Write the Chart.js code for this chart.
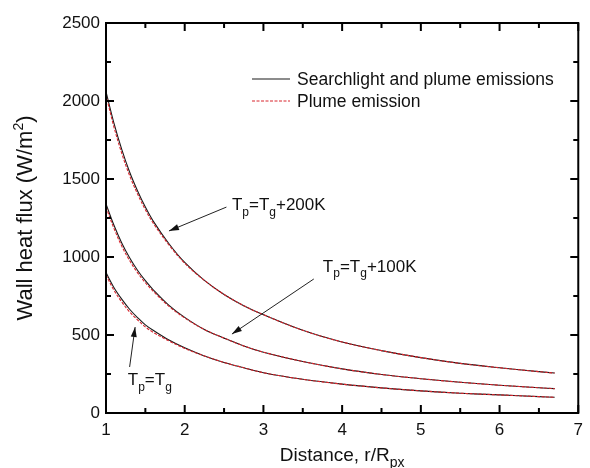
<!DOCTYPE html>
<html>
<head>
<meta charset="utf-8">
<script src="https://cdn.jsdelivr.net/npm/chart.js@4.4.1/dist/chart.umd.min.js"></script>
<style>
  body { margin: 0; background: #fff; }
  #wrap { width: 590px; height: 468px; }
</style>
</head>
<body>
<div id="wrap"><canvas id="chart" width="590" height="468"></canvas></div>
<script>

// values
const distance = [1.0, 1.1, 1.2, 1.3, 1.4, 1.5, 1.6, 1.8, 2.0, 2.25, 2.5, 2.75, 3.0, 3.5, 4.0, 4.5, 5.0, 5.5, 6.0, 6.5, 6.7];

// searchlight and plume emissions (solid)
const both200 = [2060, 1860, 1690, 1545, 1425, 1320, 1230, 1085, 965, 850, 760, 688, 630, 530, 455, 400, 355, 318, 290, 265, 256];
const both100 = [1340, 1205, 1090, 995, 915, 848, 790, 690, 613, 535, 480, 430, 390, 330, 283, 247, 220, 197, 178, 162, 156];
const both0   = [900, 805, 730, 665, 612, 565, 530, 468, 418, 366, 324, 290, 258, 216, 185, 161, 142, 127, 116, 105, 101];

// plume emission only (dashed)
const plume200 = [2040, 1835, 1665, 1522, 1405, 1303, 1217, 1077, 960, 850, 760, 688, 630, 530, 455, 400, 355, 318, 290, 265, 256];
const plume100 = [1320, 1185, 1070, 977, 900, 835, 780, 684, 609, 535, 480, 430, 390, 330, 283, 247, 220, 197, 178, 162, 156];
const plume0   = [885, 788, 712, 648, 597, 552, 517, 462, 414, 366, 324, 290, 258, 216, 185, 161, 142, 127, 116, 105, 101];

const legendLabels = ["Searchlight and plume emissions", "Plume emission"];
const xTicks = [1, 2, 3, 4, 5, 6, 7];
const yTicks = [0, 500, 1000, 1500, 2000, 2500];

const FONT = "'Liberation Sans', Arial, sans-serif";
const RED = "#d8242c";
const BLACK = "#1a1a1a";


function pts(ys) {
    return distance.map(function (x, i) { return { x: x, y: ys[i] }; });
}

function solid(ys) {
    return { data: pts(ys), borderColor: BLACK, borderWidth: 1.1, pointRadius: 0, tension: 0.35, fill: false };
}

function dashed(ys) {
    return { data: pts(ys), borderColor: RED, borderWidth: 1.1, borderDash: [3, 1.5], pointRadius: 0, tension: 0.35, fill: false };
}


// draw text made of pieces with sub/superscripts
function richText(ctx, parts, x, y, size) {
    let cx = x;
    parts.forEach(function (p) {
        let fs = size, dy = 0;
        if (p.sub) { fs = Math.round(size * 0.72); dy = size * 0.33; }
        if (p.sup) { fs = Math.round(size * 0.65); dy = -size * 0.42; }
        ctx.font = fs + "px " + FONT;
        ctx.fillText(p.t, cx, y + dy);
        cx += ctx.measureText(p.t).width;
    });
    return cx - x;
}

function richWidth(ctx, parts, size) {
    let w = 0;
    parts.forEach(function (p) {
        let fs = size;
        if (p.sub) fs = Math.round(size * 0.72);
        if (p.sup) fs = Math.round(size * 0.65);
        ctx.font = fs + "px " + FONT;
        w += ctx.measureText(p.t).width;
    });
    return w;
}


// annotation positions (data coordinates)
const notes = [
    { parts: [{ t: "T" }, { t: "p", sub: 1 }, { t: "=T" }, { t: "g", sub: 1 }, { t: "+200K" }], at: [2.60, 1300], from: [2.53, 1320], to: [1.80, 1167] },
    { parts: [{ t: "T" }, { t: "p", sub: 1 }, { t: "=T" }, { t: "g", sub: 1 }, { t: "+100K" }], at: [3.755, 905], from: [3.64, 859], to: [2.60, 506] },
    { parts: [{ t: "T" }, { t: "p", sub: 1 }, { t: "=T" }, { t: "g", sub: 1 }], at: [1.277, 180], from: [1.30, 295], to: [1.37, 551] }
];


const framePlugin = {
    id: "frame",
    beforeDraw: function (chart) {
        const c = chart.ctx;
        c.save();
        c.fillStyle = "#fff";
        c.fillRect(0, 0, chart.width, chart.height);
        c.restore();
    },
    afterDraw: function (chart) {
        const c = chart.ctx;
        const a = chart.chartArea;
        const xs = chart.scales.x;
        const ys = chart.scales.y;

        c.save();
        c.strokeStyle = "#000";
        c.lineWidth = 2;
        c.strokeRect(a.left, a.top, a.right - a.left, a.bottom - a.top);

        // inward ticks on all four sides
        function tickX(v, len) {
            const px = xs.getPixelForValue(v);
            c.beginPath();
            c.moveTo(px, a.bottom); c.lineTo(px, a.bottom - len);
            c.moveTo(px, a.top); c.lineTo(px, a.top + len);
            c.stroke();
        }
        function tickY(v, len) {
            const py = ys.getPixelForValue(v);
            c.beginPath();
            c.moveTo(a.left, py); c.lineTo(a.left + len, py);
            c.moveTo(a.right, py); c.lineTo(a.right - len, py);
            c.stroke();
        }
        for (let i = 0; i < xTicks.length; i++) {
            tickX(xTicks[i], 8);
            if (i < xTicks.length - 1) tickX((xTicks[i] + xTicks[i + 1]) / 2, 5);
        }
        for (let i = 0; i < yTicks.length; i++) {
            tickY(yTicks[i], 8);
            if (i < yTicks.length - 1) tickY((yTicks[i] + yTicks[i + 1]) / 2, 5);
        }

        // legend
        c.lineWidth = 1.2;
        c.strokeStyle = BLACK;
        c.beginPath(); c.moveTo(252, 79); c.lineTo(290, 79); c.stroke();
        c.lineWidth = 1;
        c.strokeStyle = RED;
        c.setLineDash([3, 1.5]);
        c.beginPath(); c.moveTo(252, 101); c.lineTo(290, 101); c.stroke();
        c.setLineDash([]);
        c.fillStyle = "#111";
        c.textBaseline = "alphabetic";
        c.font = "17.5px " + FONT;
        c.fillText(legendLabels[0], 297, 85);
        c.fillText(legendLabels[1], 297, 107);

        // annotations with arrows
        notes.forEach(function (n) {
            const tx = xs.getPixelForValue(n.at[0]);
            const ty = ys.getPixelForValue(n.at[1]);
            c.fillStyle = "#111";
            richText(c, n.parts, tx, ty, 17);

            const x0 = xs.getPixelForValue(n.from[0]), y0 = ys.getPixelForValue(n.from[1]);
            const x1 = xs.getPixelForValue(n.to[0]), y1 = ys.getPixelForValue(n.to[1]);
            const ang = Math.atan2(y1 - y0, x1 - x0);
            c.strokeStyle = "#222";
            c.lineWidth = 1;
            c.beginPath(); c.moveTo(x0, y0); c.lineTo(x1, y1); c.stroke();
            c.fillStyle = "#111";
            c.beginPath();
            c.moveTo(x1, y1);
            c.lineTo(x1 - 10 * Math.cos(ang) + 3 * Math.sin(ang), y1 - 10 * Math.sin(ang) - 3 * Math.cos(ang));
            c.lineTo(x1 - 10 * Math.cos(ang) - 3 * Math.sin(ang), y1 - 10 * Math.sin(ang) + 3 * Math.cos(ang));
            c.closePath();
            c.fill();
        });

        // axis titles
        c.fillStyle = "#111";
        const xt = [{ t: "Distance, r/R" }, { t: "px", sub: 1 }];
        const xw = richWidth(c, xt, 19);
        richText(c, xt, (a.left + a.right) / 2 - xw / 2, 461, 19);

        const yt = [{ t: "Wall heat flux (W/m" }, { t: "2", sup: 1 }, { t: ")" }];
        const yw = richWidth(c, yt, 22);
        c.translate(32, (a.top + a.bottom) / 2);
        c.rotate(-Math.PI / 2);
        richText(c, yt, -yw / 2, 0, 22);

        c.restore();
    }
};


function drawChart() {

    const ctx = document.getElementById("chart").getContext("2d");

    new Chart(ctx, {
        type: "line",
        data: {
            datasets: [
                dashed(plume200), dashed(plume100), dashed(plume0),
                solid(both200), solid(both100), solid(both0)
            ]
        },
        options: {
            responsive: false,
            animation: false,
            layout: { padding: { top: 23, right: 7, left: 0, bottom: 0 } },
            plugins: { legend: { display: false }, tooltip: { enabled: false } },
            scales: {
                x: {
                    type: "linear",
                    min: 1, max: 7,
                    afterFit: function (s) { s.height = 55; },
                    afterBuildTicks: function (s) { s.ticks = xTicks.map(function (v) { return { value: v }; }); },
                    grid: { display: false, drawTicks: false },
                    border: { display: false },
                    ticks: { color: "#111", padding: 7, font: { family: FONT, size: 17 }, maxRotation: 0, callback: function (v) { return String(v); } }
                },
                y: {
                    min: 0, max: 2500,
                    afterFit: function (s) { s.width = 106; },
                    afterBuildTicks: function (s) { s.ticks = yTicks.map(function (v) { return { value: v }; }); },
                    grid: { display: false, drawTicks: false },
                    border: { display: false },
                    ticks: { color: "#111", padding: 6, font: { family: FONT, size: 17 }, callback: function (v) { return String(v); } }
                }
            }
        },
        plugins: [framePlugin]
    });

}

drawChart();

</script>
</body>
</html>
